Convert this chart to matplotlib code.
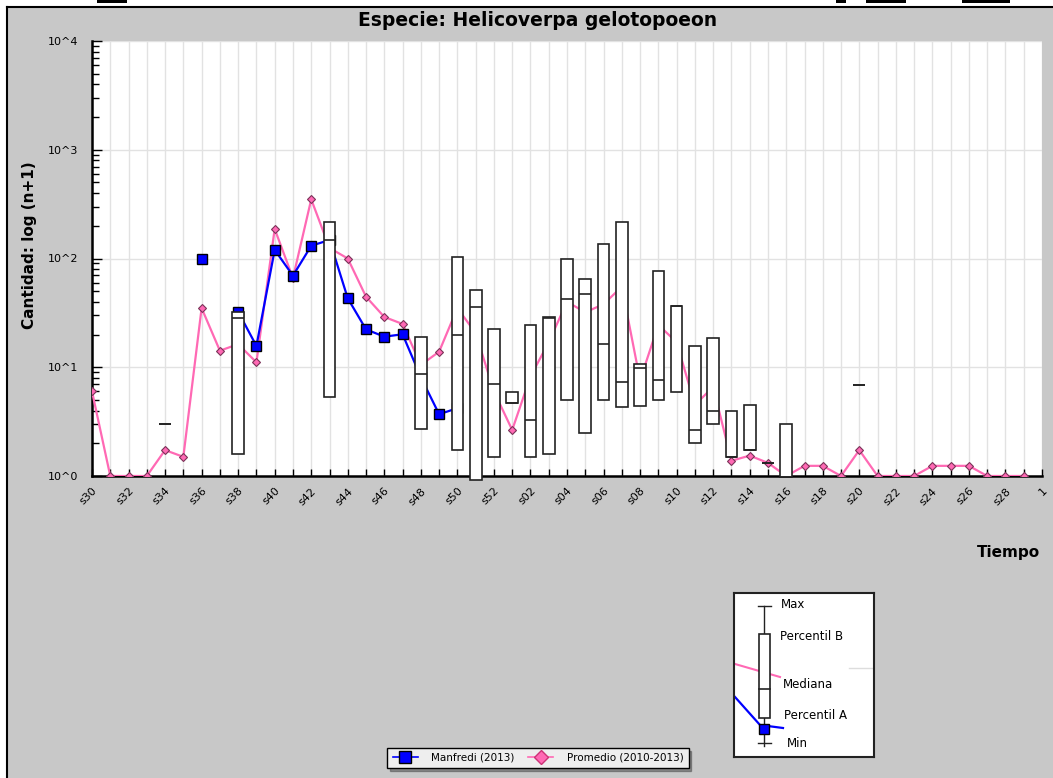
import numpy as np
import matplotlib.pyplot as plt
from matplotlib.patches import Rectangle
from matplotlib.lines import Line2D
from matplotlib.ticker import FixedLocator, LogLocator, NullFormatter, FuncFormatter

# semanas: s30..s52, s01..s29 y "1"
semanas = ['s%02d' % w for w in range(30, 53)] + ['s%02d' % w for w in range(1, 30)] + ['1']

# Promedio (2010-2013)
promedio = [6.0, 1, 1, 1, 1.73, 1.5, 35, 14.2, 16.3, 11.1,
            187, 66, 350, 125, 100, 44.5, 29, 25, 10.5, 13.9,
            35, 20.6, 6.0, 2.65, 8.2, 17, 40, 32, 38, 55,
            7.6, 24.5, 17, 4.5, 6.6, 1.38, 1.54, 1.32, 1.0, 1.24,
            1.24, 1.0, 1.73, 1, 1, 1, 1.24, 1.24, 1.24, 1,
            1, 1, np.nan]

# Manfredi (2013)
manfredi_idx = [6, 8, 9, 10, 11, 12, 13, 14, 15, 16, 17, 18, 19, 20]
manfredi_val = [100, 32.4, 15.7, 120, 69.5, 131, 148, 43, 22.3, 19.1, 20.1, 8.1, 3.7, 4.2]

# cajas: percentil A, mediana, percentil B
caja_idx = [4, 8, 13, 18, 20, 21, 22, 23, 24, 25, 26, 27, 28, 29, 30,
            31, 32, 33, 34, 35, 36, 37, 38, 42]
caja_pa = [3.0, 1.58, 5.3, 2.7, 1.73, 0.92, 1.49, 4.7, 1.49, 1.58, 5.0, 2.5, 5.0, 4.3, 4.4,
           5.0, 5.9, 2.0, 3.0, 1.49, 1.73, 1.32, 0.97, 6.9]
caja_med = [3.0, 28.6, 148, 8.6, 19.8, 36, 7.0, 4.7, 3.27, 28.5, 42, 47, 16.5, 7.3, 9.9,
            7.6, 36.3, 2.65, 4.0, 1.49, 1.73, 1.32, 0.97, 6.9]
caja_pb = [3.0, 32, 218, 19.1, 103, 51, 22.3, 5.9, 24.3, 29, 100, 65, 136, 218, 10.8,
           77, 36.8, 15.7, 18.7, 4.0, 4.5, 1.32, 3.0, 6.9]

W, H = 1053, 778
fig = plt.figure(figsize=(W / 100, H / 100), dpi=100)
fig.patch.set_facecolor('white')

# fondo gris con borde
fig.add_artist(Rectangle((7 / W, 0), 1 - 7 / W, (H - 7) / H, transform=fig.transFigure,
                         facecolor='#c8c8c8', edgecolor='none', zorder=-10))
fig.add_artist(Line2D([7 / W, 7 / W], [0, (H - 7) / H], transform=fig.transFigure, color='black', lw=1.5))
fig.add_artist(Line2D([7 / W, 1], [(H - 7) / H, (H - 7) / H], transform=fig.transFigure, color='black', lw=1.5))
for x0, x1 in [(97, 127), (836, 846), (866, 906), (962, 1010)]:
    fig.add_artist(Rectangle((x0 / W, (H - 3) / H), (x1 - x0) / W, 3 / H, transform=fig.transFigure,
                             facecolor='black', edgecolor='none'))

ax = fig.add_axes([92 / W, (H - 476) / H, 950 / W, 435 / H])
ax.set_facecolor('white')
x = np.arange(len(semanas))

ax.plot(x, promedio, color='#ff69b4', lw=1.6, marker='D', ms=4.3, mfc='#ff69b4', mec='#7a3358',
        mew=0.8, zorder=3)
manfredi = np.full(len(semanas), np.nan)
manfredi[manfredi_idx] = manfredi_val
ax.plot(x, manfredi, color='#0000ff', lw=1.6, marker='s', ms=7.5, mfc='#0000ff', mec='black',
        mew=1, zorder=4)

stats = [dict(med=m, q1=a, q3=b, whislo=a, whishi=b, fliers=[])
         for a, m, b in zip(caja_pa, caja_med, caja_pb)]
bp = ax.bxp(stats, positions=caja_idx, widths=0.64, patch_artist=True, showcaps=False,
            manage_ticks=False, zorder=5,
            boxprops=dict(facecolor='white', edgecolor='#222222', lw=1.2),
            medianprops=dict(color='#222222', lw=1.2),
            whiskerprops=dict(color='#222222', lw=1.2))
for art in bp['boxes'] + bp['medians'] + bp['whiskers']:
    art.set_clip_on(False)

ax.set_yscale('log')
ax.set_ylim(1, 1e4)
ax.set_xlim(0, len(semanas) - 1)
ax.yaxis.set_major_locator(FixedLocator([1, 10, 100, 1000, 10000]))
ax.yaxis.set_major_formatter(FuncFormatter(lambda v, p: '10^%d' % round(np.log10(v))))
ax.yaxis.set_minor_locator(LogLocator(base=10, subs=np.arange(2, 10)))
ax.yaxis.set_minor_formatter(NullFormatter())
ax.set_xticks(x)
ax.set_xticklabels([s if i % 2 == 0 else '' for i, s in enumerate(semanas)],
                   rotation=45, ha='right', va='top', rotation_mode='anchor', fontsize=8)
ax.tick_params(axis='y', which='major', direction='in', length=7, width=1, labelsize=8, pad=10)
ax.tick_params(axis='y', which='minor', direction='in', length=5, width=1)
ax.tick_params(axis='x', direction='in', length=5, width=1, pad=7)
ax.grid(True, which='major', color='#e2e2e2', lw=1, zorder=0)
ax.set_axisbelow(True)
for s in ['top', 'right']:
    ax.spines[s].set_visible(False)
for s in ['left', 'bottom']:
    ax.spines[s].set_linewidth(1.8)

fig.text(538 / W, (H - 21) / H, 'Especie: Helicoverpa gelotopoeon', ha='center', va='center',
         fontsize=13.5, fontweight='bold', family='DejaVu Sans Condensed')
fig.text(30 / W, (H - 245) / H, 'Cantidad: log (n+1)', rotation=90, ha='center', va='center',
         fontsize=11, fontweight='bold')
fig.text(1040 / W, (H - 553) / H, 'Tiempo', ha='right', va='center', fontsize=11, fontweight='bold')

# leyenda de series
h1 = Line2D([], [], color='#0000ff', lw=1.2, marker='s', ms=8, mfc='#0000ff', mec='black')
h2 = Line2D([], [], color='#ff69b4', lw=1.2, marker='D', ms=7, mfc='#ff69b4', mec='#cc3377')
fig.legend([h1, h2], ['Manfredi (2013)', 'Promedio (2010-2013)'], ncol=2, loc='center',
           bbox_to_anchor=(538 / W, 20 / H), fontsize=7.5, frameon=True, fancybox=False,
           shadow=True, edgecolor='black', facecolor='#eeeeee', framealpha=1,
           handlelength=2.4, handletextpad=1.3, columnspacing=1.3, borderpad=0.5)

# leyenda de la caja
ax2 = fig.add_axes([734 / W, 21 / H, 140 / W, 164 / H])
ax2.set_xlim(0, 140)
ax2.set_ylim(164, 0)
ax2.set_xticks([])
ax2.set_yticks([])
for s in ax2.spines.values():
    s.set_linewidth(1.5)
    s.set_color('#222222')
ax2.plot([115, 140], [75, 75], color='#dddddd', lw=1)
ax2.plot([1, 46], [71, 84], color='#ff69b4', lw=1.5)
ax2.plot([1, 26, 49], [104, 132, 135], color='#0000ff', lw=1.6)
ax2.plot([30.3, 30.3], [12.7, 153], color='#222222', lw=1)
ax2.plot([24.3, 36.7], [12.7, 12.7], color='#222222', lw=1)
ax2.plot([24.3, 36.7], [150.3, 150.3], color='#222222', lw=1)
ax2.add_patch(Rectangle((24.7, 41.3), 11.3, 83.4, facecolor='white', edgecolor='#222222', lw=1.2, zorder=3))
ax2.plot([24.7, 36], [96.3, 96.3], color='#222222', lw=1.2, zorder=4)
ax2.plot([30.3], [136.3], marker='s', ms=7, mfc='#0000ff', mec='black', zorder=5)
for lbl, lx, ly in [('Max', 47, 12), ('Percentil B', 46, 43.7), ('Mediana', 48.7, 92),
                    ('Percentil A', 50, 122.7), ('Min', 52.7, 150.3)]:
    ax2.text(lx, ly, lbl, ha='left', va='center', fontsize=8.5)

fig.savefig('out.png', dpi=100)
